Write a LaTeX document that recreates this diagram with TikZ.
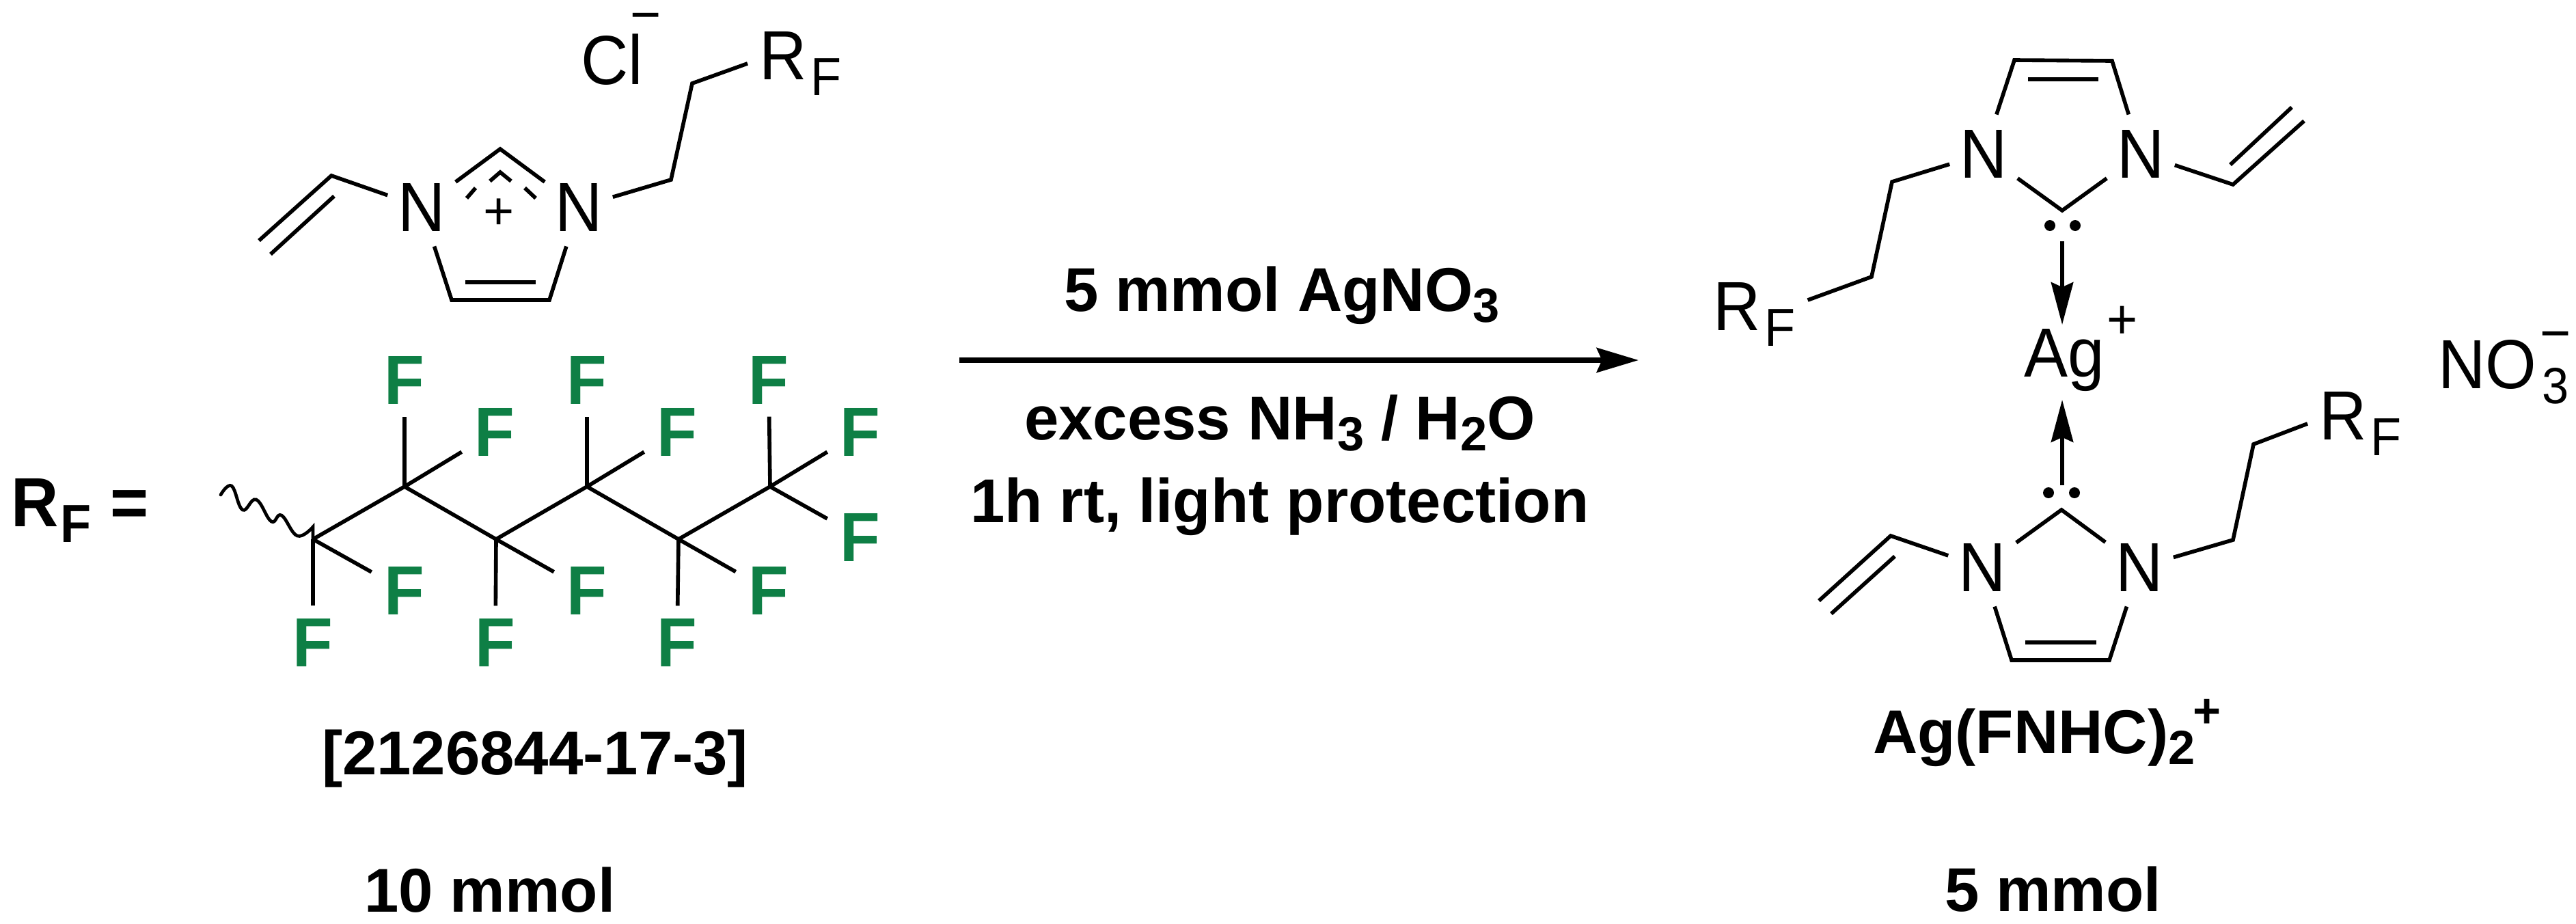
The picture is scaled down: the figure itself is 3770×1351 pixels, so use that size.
\documentclass[tikz,border=0pt]{standalone}
\usepackage{fontspec}
\usepackage{graphicx}
\setmainfont{Liberation Sans}
\usetikzlibrary{arrows.meta}
\definecolor{fgreen}{HTML}{0E7F45}
\newcommand\regf{\fontsize{27.3}{30}\selectfont}
\newcommand\boldf{\bfseries\fontsize{25.75}{30}\selectfont}
\newcommand\capf{\bfseries\fontsize{27.3}{30}\selectfont}
\newcommand\tallbox[1]{\scalebox{1}[1.06]{#1}}
\newcommand\rsub[1]{\hspace{1.5pt}\raisebox{-6.4pt}{\fontsize{21}{21}\selectfont #1}}
\newcommand\bsub[1]{\raisebox{-4.8pt}{\fontsize{20}{20}\selectfont #1}}
\tikzset{
  bond/.style={line width=1.6pt,line cap=butt,line join=miter},
  rxn/.style={line width=2.1pt,-{Stealth[length=17.4pt,width=10.2pt,inset=2.2pt]}},
  coord/.style={line width=1.6pt,-{Stealth[length=17.6pt,width=9.2pt,inset=2pt]}},
  atom/.style={font=\regf,inner xsep=4.3pt,inner ysep=6.4pt,outer sep=0pt},
  lbl/.style={font=\regf,inner sep=0pt,outer sep=0pt,anchor=base west},
  rlbl/.style={font=\regf,inner xsep=5.1pt,inner ysep=0pt,outer sep=0pt,anchor=base west},
  blbl/.style={font=\boldf,inner sep=0pt,outer sep=0pt,anchor=base west},
  fatom/.style={font=\capf,text=fgreen,inner xsep=5.4pt,inner ysep=5.3pt,outer sep=0pt}
}
\begin{document}
\begin{tikzpicture}[x=0.01cm,y=-0.01cm]
\useasboundingbox (0,0) rectangle (3770,1351);
% ---------- imidazolium salt ----------
\node[atom] (n1) at (617,303) {\tallbox{N}};
\node[atom] (n2) at (847,303) {\tallbox{N}};
\node[lbl] (cl) at (850,123) {\tallbox{Cl\hspace{-5.1pt}\raisebox{19.6pt}{\fontsize{22}{22}\selectfont −}}};
\node[rlbl] (rf1) at (1094,116) {\tallbox{R\rsub{F}}};
\node[font=\fontsize{22}{22}\selectfont,inner sep=0pt] (plus) at (730,313) {+};
\foreach \n/\x/\y in {v1/379/352,v2/485/257,v3/396/372,v4/489/287,
  c2/732/218,r1/661/439,r2/804/439,r3/681/413,r4/784/413,
  e1/982/263,e2/1013/122,
  d1/732/252,d2/717/265,d3/748/265,d4/696/275,d5/683/290,d6/768/275,d7/784/290}
  \coordinate (\n) at (\x,\y);
\draw[bond] (v1)--(v2)--(n1);
\draw[bond] (v3)--(v4);
\draw[bond] (n1)--(c2)--(n2);
\draw[bond] (n1)--(r1)--(r2)--(n2);
\draw[bond] (r3)--(r4);
\draw[bond] (n2)--(e1)--(e2)--(rf1.west);
\draw[bond] (d2)--(d1)--(d3);
\draw[bond] (d4)--(d5);
\draw[bond] (d6)--(d7);
% ---------- RF definition ----------
\node[lbl,font=\capf] (rfdef) at (16,770) {\tallbox{R\hspace{0.9pt}\raisebox{-6.4pt}{\fontsize{21}{21}\selectfont F}\hspace{8pt}=}};
\foreach \n/\x/\y in {k1/458/789,k2/592/712,k3/726/789,k4/859/712,k5/993/789,k6/1127/712}
  \coordinate (\n) at (\x,\y);
\foreach \n/\x/\y in {fa/458/940,fb/592/864,fc/592/556,fd/724/632,fe/725/940,ff/859/864,
  fg/859/556,fh/991/632,fi/991/940,fj/1125/864,fk/1125/556,fl/1259/632,fm/1259/786}
  \node[fatom] (\n) at (\x,\y) {\tallbox{F}};
\draw[bond] (k1)--(k2)--(k3)--(k4)--(k5)--(k6);
\draw[bond] (k1)--(fa); \draw[bond] (k1)--(fb);
\draw[bond] (k2)--(fc); \draw[bond] (k2)--(fd);
\draw[bond] (k3)--(fe); \draw[bond] (k3)--(ff);
\draw[bond] (k4)--(fg); \draw[bond] (k4)--(fh);
\draw[bond] (k5)--(fi); \draw[bond] (k5)--(fj);
\draw[bond] (k6)--(fk); \draw[bond] (k6)--(fl); \draw[bond] (k6)--(fm);
\draw[line width=1.35pt,line cap=round] plot[smooth,tension=0.7] coordinates
  {(323,724) (339,711) (355,746) (375,731) (397,763) (412,754) (435,784) (458,771)} -- (k1);
\node[blbl] (cas) at (471,1133) {[2126844-17-3]};
\node[blbl] (m10) at (533,1334) {10 mmol};
% ---------- reaction arrow ----------
\coordinate (ra) at (1404,527);
\coordinate (rb) at (2398,527);
\draw[rxn] (ra)--(rb);
\node[blbl] (t1) at (1557,455) {5 mmol AgNO\bsub{3}};
\node[blbl] (t2) at (1499,643) {excess NH\bsub{3} / H\bsub{2}O};
\node[blbl] (t3) at (1420,764) {1h rt, light protection};
% ---------- product: upper carbene ----------
\node[atom] (un1) at (2903,225) {\tallbox{N}};
\node[atom] (un2) at (3133,225) {\tallbox{N}};
\node[rlbl] (rfl) at (2490,483) {\tallbox{R\rsub{F}}};
\foreach \n/\x/\y in {ur1/2948/88,ur2/3091/89,ur3/2968/116,ur4/3071/116,uc/3018/308,
  ul1/2769/266,ul2/2739/405,uv1/3268/270,uv2/3372/177,uv3/3264/241,uv4/3354/157,
  ua1/3018/353,ua2/3018/475}
  \coordinate (\n) at (\x,\y);
\draw[bond] (un1)--(ur1)--(ur2)--(un2);
\draw[bond] (ur3)--(ur4);
\draw[bond] (un1)--(uc)--(un2);
\draw[bond] (un1)--(ul1)--(ul2)--(rfl.15);
\draw[bond] (un2)--(uv1)--(uv2);
\draw[bond] (uv3)--(uv4);
\fill (3000,330) circle (8) (3037,330) circle (8);
\draw[coord] (ua1)--(ua2);
% ---------- silver and counterion ----------
\node[lbl] (ag) at (2962,551) {\tallbox{Ag\hspace{1.2pt}\raisebox{15pt}{\fontsize{22}{22}\selectfont +}}};
\node[lbl] (no3) at (3568,568) {\tallbox{NO\hspace{2.3pt}\raisebox{-6.1pt}{\fontsize{20}{20}\selectfont 3}\hspace{-11.8pt}\raisebox{14pt}{\fontsize{22}{22}\selectfont −}}};
% ---------- product: lower carbene ----------
\node[atom] (ln1) at (2901,830) {\tallbox{N}};
\node[atom] (ln2) at (3131,830) {\tallbox{N}};
\node[rlbl] (rfb) at (3377,643) {\tallbox{R\rsub{F}}};
\foreach \n/\x/\y in {lr1/2944/966,lr2/3087/966,lr3/2964/940,lr4/3068/940,lc/3017/746,
  le1/3268/790,le2/3298/650,lv1/2767/784,lv2/2662/879,lv3/2773/814,lv4/2680/898,
  la1/3018/710,la2/3018/585}
  \coordinate (\n) at (\x,\y);
\draw[bond] (ln1)--(lr1)--(lr2)--(ln2);
\draw[bond] (lr3)--(lr4);
\draw[bond] (ln1)--(lc)--(ln2);
\draw[bond] (ln2)--(le1)--(le2)--(rfb.west);
\draw[bond] (ln1)--(lv1)--(lv2);
\draw[bond] (lv3)--(lv4);
\fill (2998,721) circle (8) (3036,721) circle (8);
\draw[coord] (la1)--(la2);
\node[blbl] (agf) at (2741,1102) {Ag(FNHC)\bsub{2}\hspace{-1pt}\raisebox{10.8pt}{\fontsize{20}{20}\selectfont +}};
\node[blbl] (m5) at (2846,1333) {5 mmol};
\end{tikzpicture}
\end{document}
